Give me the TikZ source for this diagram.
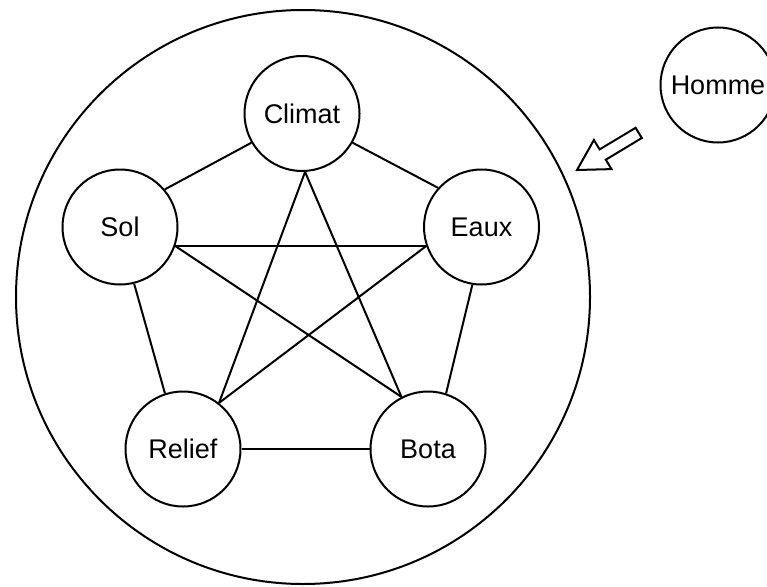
\documentclass[tikz,border=0pt]{standalone}
\usepackage{fontspec}
\setmainfont{Liberation Sans}
\begin{document}
\begin{tikzpicture}[x=1pt,y=-1pt,
  lw/.style={line width=2pt},
  ball/.style={circle,draw,lw,minimum size=115pt,inner sep=0pt,
    font=\fontsize{27}{30}\selectfont},
  link/.style={lw}]
\useasboundingbox (0,0) rectangle (767,586);
\clip (0,0) rectangle (767,586);
\fill[white] (0,0) rectangle (767,586);
% environment circle
\node[circle,draw,lw,minimum size=574pt,inner sep=0pt] (env) at (303,297) {};
% nodes
\node[ball] (climat) at (302,113.5) {Climat};
\node[ball] (sol)    at (120,227) {Sol};
\node[ball] (eaux)   at (481.5,227) {Eaux};
\node[ball] (relief) at (183,449) {Relief};
\node[ball] (bota)   at (428,449) {Bota};
\node[ball] (homme)  at (718,85) {Homme};
% pentagon
\draw[link] (climat.210) -- (sol.40);
\draw[link] (climat.-30) -- (eaux.138);
\draw[link] (sol.-76) -- (relief.108);
\draw[link] (eaux.-99) -- (bota.72);
\draw[link] (relief.east) -- (bota.west);
% star
\draw[link] (climat.-87) -- (relief.52);
\draw[link] (climat.-87) -- (bota.117);
\draw[link] (sol.-19) -- (eaux.199);
\draw[link] (sol.-19) -- (bota.117);
\draw[link] (eaux.199) -- (relief.52);
% hollow arrow from Homme toward the environment
\draw[lw,line join=miter,fill=white]
  (577,170) -- (593.9,140.0) -- (599.6,149.4) -- (635.6,127.8)
  -- (641.8,138.0) -- (605.8,159.7) -- (611.5,169.1) -- cycle;
\end{tikzpicture}
\end{document}
